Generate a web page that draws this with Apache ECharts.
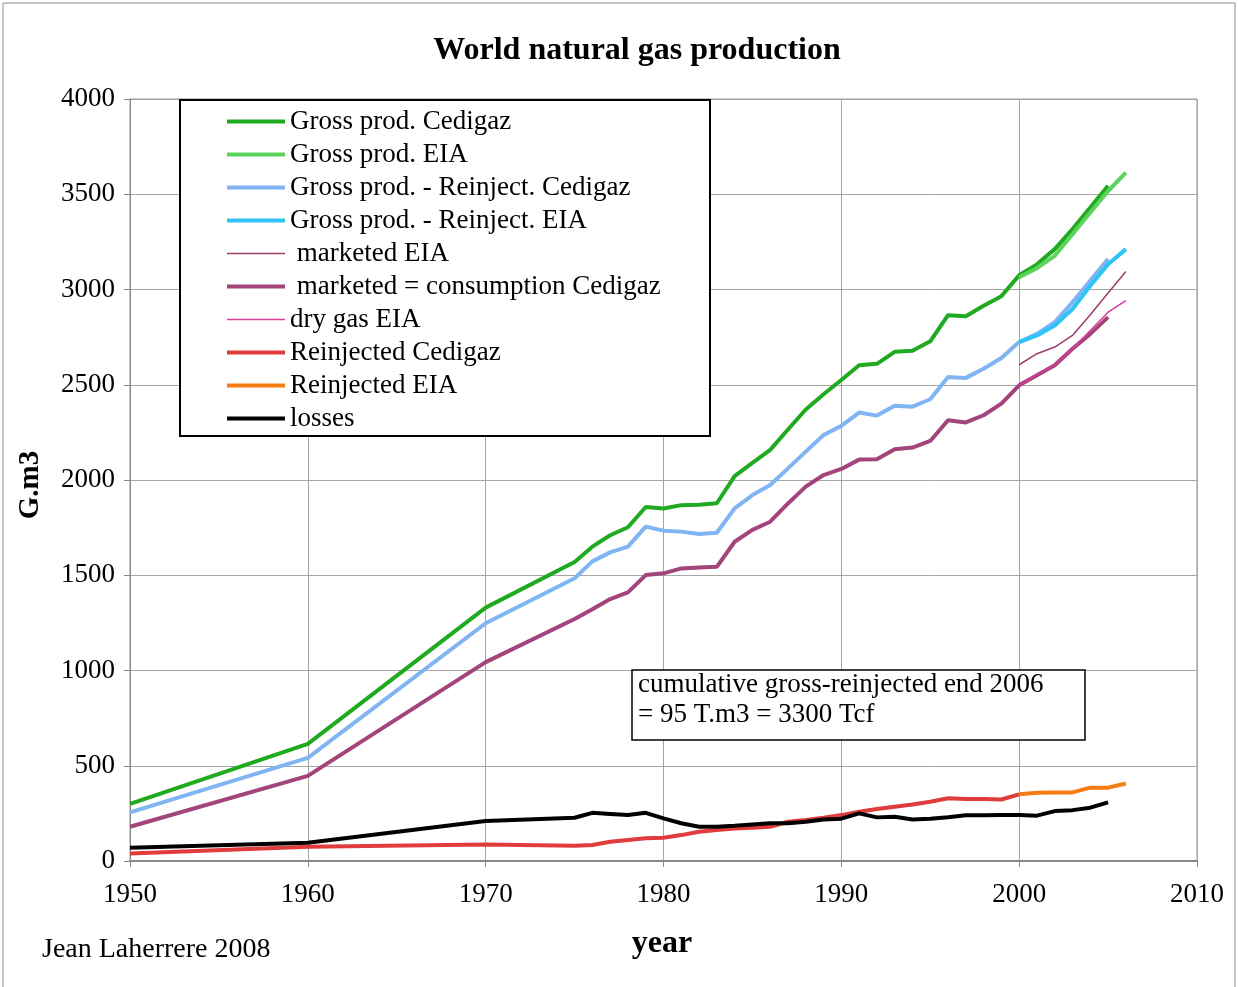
<!DOCTYPE html>
<html>
<head>
<meta charset="utf-8">
<script src="https://cdn.jsdelivr.net/npm/echarts@6/dist/echarts.min.js"></script>
<style>
html,body{margin:0;padding:0;background:#fff;}
#chart{width:1238px;height:987px;}
</style>
</head>
<body>
<div id="chart"></div>
<script>
// ---- data ----
var yearsCed = [1950,1960,1970,1975,1976,1977,1978,1979,1980,1981,1982,1983,1984,1985,1986,1987,1988,1989,1990,1991,1992,1993,1994,1995,1996,1997,1998,1999,2000,2001,2002,2003,2004,2005];
var yearsEia = [2000,2001,2002,2003,2004,2005,2006];
var yearsReinjCed = [1950,1960,1970,1975,1976,1977,1978,1979,1980,1981,1982,1983,1984,1985,1986,1987,1988,1989,1990,1991,1992,1993,1994,1995,1996,1997,1998,1999,2000];

var grossCedigaz = [300,615,1330,1570,1650,1710,1752,1858,1850,1868,1870,1878,2020,2090,2158,2265,2370,2450,2525,2602,2610,2673,2678,2728,2865,2860,2915,2965,3075,3132,3212,3317,3430,3545];
var grossEIA = [3064,3112,3177,3290,3404,3517,3613];
var grossMinusReinjCedigaz = [255,541,1248,1484,1573,1620,1650,1755,1734,1729,1716,1723,1851,1921,1974,2061,2149,2236,2284,2354,2338,2390,2385,2424,2541,2536,2584,2640,2724,2767,2829,2933,3047,3160];
var grossMinusReinjEIA = [2724,2759,2811,2898,3020,3133,3212];
var marketedEIA = [2605,2663,2698,2759,2867,2982,3094];
var marketedCedigaz = [180,447,1044,1270,1322,1375,1410,1501,1510,1536,1541,1544,1676,1738,1781,1877,1965,2026,2058,2107,2109,2162,2170,2205,2314,2302,2340,2401,2497,2550,2602,2689,2767,2855];
var dryGasEIA = [2497,2553,2605,2689,2785,2881,2942];
var reinjCedigaz = [40,75,87,80,84,101,110,119,122,136,154,163,171,175,180,206,215,227,241,259,273,285,297,311,329,325,325,323,350];
var reinjEIA = [350,358,360,360,385,385,407];
var losses = [70,96,210,227,253,247,241,253,224,198,180,180,185,192,198,198,206,218,222,250,229,232,218,222,230,240,240,241,241,238,262,267,280,308];

var xTicks = [1950,1960,1970,1980,1990,2000,2010];
var yTicks = [0,500,1000,1500,2000,2500,3000,3500,4000];

function pairs(xs, ys){ return xs.map(function(x,i){ return [x, ys[i]]; }); }

var serif = '"Liberation Serif", "DejaVu Serif", serif';

function mk(name, xs, ys, color, width){
  return {
    name: name, type: 'line', data: pairs(xs, ys),
    symbol: 'none', showSymbol: false, smooth: false,
    lineStyle: {color: color, width: width},
    itemStyle: {color: color},
    emphasis: {disabled: true},
    animation: false
  };
}

var series = [
  mk('Gross prod. Cedigaz', yearsCed, grossCedigaz, '#1faa1f', 4),
  mk('Gross prod. EIA', yearsEia, grossEIA, '#5cd35c', 4),
  mk('Gross prod. - Reinject. Cedigaz', yearsCed, grossMinusReinjCedigaz, '#80b4f2', 4),
  mk('Gross prod. - Reinject. EIA', yearsEia, grossMinusReinjEIA, '#2ec4f5', 4),
  mk(' marketed EIA', yearsEia, marketedEIA, '#9c3d6c', 1.5),
  mk(' marketed = consumption Cedigaz', yearsCed, marketedCedigaz, '#a3447a', 4),
  mk('dry gas EIA', yearsEia, dryGasEIA, '#d93c9c', 1.5),
  mk('Reinjected Cedigaz', yearsReinjCed, reinjCedigaz, '#e03c3c', 4),
  mk('Reinjected EIA', yearsEia, reinjEIA, '#f57c12', 4),
  mk('losses', yearsCed, losses, '#000000', 4)
];

var thickIcon = 'path://M0 0H58V4H0Z';
var thinIcon = 'path://M0 0H58V1.6H0Z';

var chart = echarts.init(document.getElementById('chart'), null, {renderer: 'canvas'});
chart.setOption({
  backgroundColor: '#ffffff',
  animation: false,
  title: {
    text: 'World natural gas production',
    left: 632, top: 30, textAlign: 'center',
    textStyle: {fontFamily: serif, fontWeight: 'bold', fontSize: 32, color: '#000'}
  },
  grid: {left: 130, right: 41, top: 99, bottom: 126, show: true, borderColor: '#999', borderWidth: 1, containLabel: false},
  xAxis: {
    type: 'value', min: xTicks[0], max: xTicks[xTicks.length-1], interval: 10,
    axisLine: {show: true, onZero: false, lineStyle: {color: '#888', width: 2}},
    axisTick: {show: true, length: 6, inside: false, lineStyle: {color: '#888'}},
    axisLabel: {margin: 20, fontFamily: serif, fontSize: 27, color: '#000',
      formatter: function(v){ return String(v); }},
    splitLine: {show: true, lineStyle: {color: '#a6a6a6', width: 1}}
  },
  yAxis: {
    type: 'value', min: yTicks[0], max: yTicks[yTicks.length-1], interval: 500,
    axisLine: {show: true, lineStyle: {color: '#888', width: 1}},
    axisTick: {show: true, length: 6, inside: false, lineStyle: {color: '#888'}},
    axisLabel: {margin: 15, fontFamily: serif, fontSize: 27, color: '#000',
      formatter: function(v){ return String(v); }},
    splitLine: {show: true, lineStyle: {color: '#a6a6a6', width: 1}}
  },
  legend: {
    orient: 'vertical', left: 222, top: 103, z: 10,
    itemWidth: 58, itemHeight: 14, itemGap: 6,
    selectedMode: false,
    textStyle: {fontFamily: serif, fontSize: 27, lineHeight: 27, color: '#000'},
    data: series.map(function(s){
      return {name: s.name, icon: s.lineStyle.width < 2 ? thinIcon : thickIcon};
    })
  },
  graphic: [
    {type: 'rect', z: 0, silent: true, shape: {x: 3, y: 3, width: 1232, height: 995},
      style: {fill: 'none', stroke: '#8a8a8a', lineWidth: 1}},
    {type: 'rect', z: 5, silent: true, shape: {x: 180, y: 100, width: 530, height: 336},
      style: {fill: '#fff', stroke: '#000', lineWidth: 2}},
    {type: 'rect', z: 5, silent: true, shape: {x: 632, y: 670, width: 453, height: 70},
      style: {fill: '#fff', stroke: '#000', lineWidth: 1.5}},
    {type: 'text', z: 6, silent: true, style: {x: 638, y: 685, text: 'cumulative gross-reinjected end 2006',
      font: '27px ' + serif, fill: '#000', textAlign: 'left', textVerticalAlign: 'middle'}},
    {type: 'text', z: 6, silent: true, style: {x: 638, y: 715, text: '= 95 T.m3 = 3300 Tcf',
      font: '27px ' + serif, fill: '#000', textAlign: 'left', textVerticalAlign: 'middle'}},
    {type: 'text', z: 6, silent: true, rotation: Math.PI/2, x: 31, y: 485,
      style: {x: 0, y: 0, text: 'G.m3', font: 'bold 29px ' + serif, fill: '#000', textAlign: 'center', textVerticalAlign: 'middle'}},
    {type: 'text', z: 6, silent: true, style: {x: 662, y: 944, text: 'year',
      font: 'bold 32px ' + serif, fill: '#000', textAlign: 'center', textVerticalAlign: 'middle'}},
    {type: 'text', z: 6, silent: true, style: {x: 42, y: 950, text: 'Jean Laherrere 2008',
      font: '28px ' + serif, fill: '#000', textAlign: 'left', textVerticalAlign: 'middle'}}
  ],
  series: series
});
</script>
</body>
</html>
